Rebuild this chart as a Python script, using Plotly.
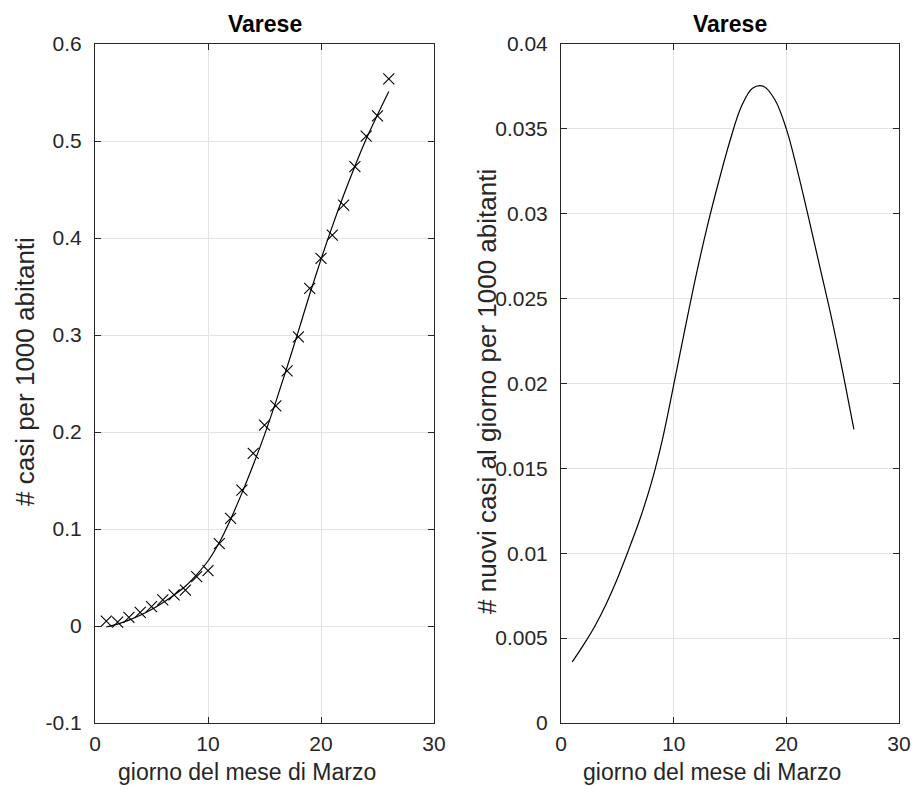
import plotly.graph_objects as go

# ---------------- data ----------------
days = list(range(1, 27))
# observed cases per 1000 inhabitants (markers)
cases_obs = [0.005, 0.004, 0.009, 0.014, 0.020, 0.027, 0.032, 0.037, 0.051, 0.057,
             0.085, 0.111, 0.140, 0.178, 0.207, 0.227, 0.263, 0.298, 0.348, 0.379,
             0.403, 0.434, 0.4735, 0.505, 0.526, 0.564]
# fitted curve (left panel)
cases_fit = [-0.001, 0.002, 0.006, 0.011, 0.017, 0.024, 0.032, 0.041, 0.053, 0.067,
             0.086, 0.110, 0.137, 0.166, 0.197, 0.231, 0.267, 0.304, 0.342, 0.378,
             0.412, 0.444, 0.474, 0.502, 0.527, 0.551]
# new daily cases per 1000 inhabitants (right panel)
new_cases = [0.0036, 0.0046, 0.0057, 0.0070, 0.0085, 0.0102, 0.0120, 0.0141, 0.0167, 0.0199,
             0.0232, 0.0264, 0.0293, 0.0319, 0.0343, 0.0363, 0.0374, 0.0375, 0.0367, 0.0350,
             0.0325, 0.0297, 0.0268, 0.0239, 0.0207, 0.0173]

x_ticks = [0, 10, 20, 30]
x_ticktext = ["0", "10", "20", "30"]
y1_ticks = [-0.1, 0, 0.1, 0.2, 0.3, 0.4, 0.5, 0.6]
y1_ticktext = ["-0.1", "0", "0.1", "0.2", "0.3", "0.4", "0.5", "0.6"]
y2_ticks = [0, 0.005, 0.01, 0.015, 0.02, 0.025, 0.03, 0.035, 0.04]
y2_ticktext = ["0", "0.005", "0.01", "0.015", "0.02", "0.025", "0.03", "0.035", "0.04"]

title_text = "Varese"
xlabel = "giorno del mese di Marzo"
ylabel1 = "# casi per 1000 abitanti"
ylabel2 = "# nuovi casi al giorno per 1000 abitanti"

# ---------------- figure ----------------
W, H = 912, 789
FONT = "Liberation Sans, Arial, Helvetica, sans-serif"
AX = "#262626"
GRID = "#e3e3e3"

fig = go.Figure()
fig.add_trace(go.Scatter(x=days, y=cases_obs, mode="markers",
                         marker=dict(symbol="x-thin-open", size=11, color="black",
                                     line=dict(color="black", width=1.1)),
                         xaxis="x", yaxis="y", showlegend=False))
fig.add_trace(go.Scatter(x=days, y=cases_fit, mode="lines",
                         line=dict(color="black", width=1.2, shape="spline", smoothing=1.0),
                         xaxis="x", yaxis="y", showlegend=False))
fig.add_trace(go.Scatter(x=days, y=new_cases, mode="lines",
                         line=dict(color="black", width=1.2, shape="spline", smoothing=1.0),
                         xaxis="x2", yaxis="y2", showlegend=False))

def px_x(p):
    return p / W

def px_y(p):
    return 1 - p / H

axis_common = dict(showline=True, linecolor=AX, linewidth=1, mirror="allticks",
                   ticks="inside", ticklen=6, tickcolor=AX, tickwidth=1,
                   showgrid=True, gridcolor=GRID, gridwidth=1, zeroline=False,
                   tickfont=dict(family=FONT, size=21, color=AX), automargin=False)

fig.update_layout(
    width=W, height=H,
    margin=dict(l=0, r=0, t=0, b=0),
    template="none",
    paper_bgcolor="white", plot_bgcolor="white",
    xaxis=dict(domain=[px_x(95), px_x(434)], range=[0, 30], tickvals=x_ticks,
               ticktext=x_ticktext, anchor="y", ticklabelstandoff=2, **axis_common),
    yaxis=dict(domain=[px_y(723), px_y(44)], range=[-0.1, 0.6], tickvals=y1_ticks,
               ticktext=y1_ticktext, anchor="x", ticklabelstandoff=8, **axis_common),
    xaxis2=dict(domain=[px_x(561), px_x(899)], range=[0, 30], tickvals=x_ticks,
                ticktext=x_ticktext, anchor="y2", ticklabelstandoff=2, **axis_common),
    yaxis2=dict(domain=[px_y(723), px_y(44)], range=[0, 0.04], tickvals=y2_ticks,
                ticktext=y2_ticktext, anchor="x2", ticklabelstandoff=8, **axis_common),
)

ann = []
for cx in (264.5, 730):
    ann.append(dict(text="<b>" + title_text + "</b>", x=px_x(cx), y=px_y(24),
                    xref="paper", yref="paper", xanchor="center", yanchor="middle",
                    showarrow=False, font=dict(family=FONT, size=23, color="black")))
for cx in (247, 712):
    ann.append(dict(text=xlabel, x=px_x(cx), y=px_y(772),
                    xref="paper", yref="paper", xanchor="center", yanchor="middle",
                    showarrow=False, font=dict(family=FONT, size=23, color=AX)))
ann.append(dict(text=ylabel1, x=px_x(25), y=px_y(372), textangle=-90,
                xref="paper", yref="paper", xanchor="center", yanchor="middle",
                showarrow=False, font=dict(family=FONT, size=26, color=AX)))
ann.append(dict(text=ylabel2, x=px_x(487), y=px_y(391), textangle=-90,
                xref="paper", yref="paper", xanchor="center", yanchor="middle",
                showarrow=False, font=dict(family=FONT, size=26, color=AX)))
fig.update_layout(annotations=ann)

fig.write_html("out.html")
